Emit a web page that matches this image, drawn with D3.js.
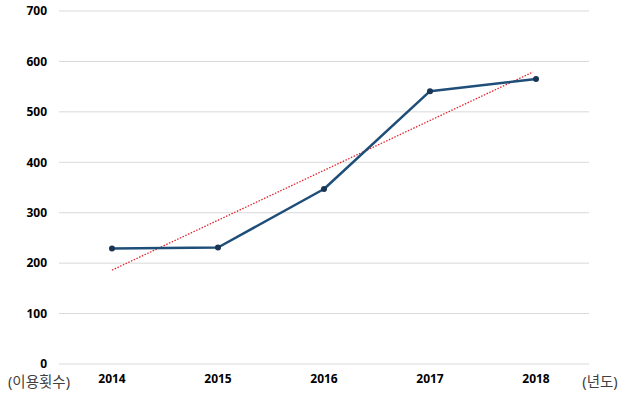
<!DOCTYPE html>
<html><head><meta charset="utf-8">
<script src="https://cdn.jsdelivr.net/npm/d3@7"></script>
<style>body{margin:0;background:#fff;} svg{display:block;}</style>
</head><body>
<svg id="c" width="627" height="396"></svg>
<script>
const categories = ["2014","2015","2016","2017","2018"];
const values = [229, 231, 347, 541, 565];
const yTicks = [0,100,200,300,400,500,600,700];
const yUnitLabel = "(이용횟수)";
const xUnitLabel = "(년도)";

const svg = d3.select("#c");
const m = {left:59, right:38, top:11, bottom:32};
const W = 627, H = 396;
const x = d3.scaleBand().domain(categories).range([m.left, W-m.right]);
const y = d3.scaleLinear().domain([0,700]).range([H-m.bottom, m.top]);
const cx = d => x(d) + x.bandwidth()/2;
const font = "'Noto Sans', 'Noto Sans CJK KR', sans-serif";

// gridlines
svg.append("g").selectAll("line").data(yTicks).join("line")
  .attr("x1", m.left).attr("x2", W-m.right)
  .attr("y1", d=>y(d)).attr("y2", d=>y(d))
  .attr("stroke", "#d9d9d9").attr("stroke-width", 1);

// y axis
const ya = svg.append("g").attr("transform", `translate(${m.left},0)`)
  .call(d3.axisLeft(y).tickValues(yTicks).tickSize(0).tickPadding(12));
ya.select(".domain").remove();
ya.selectAll("text").attr("font-family", font).attr("font-size", 12).attr("font-weight","bold").attr("fill","#000");

// x axis
const xa = svg.append("g").attr("transform", `translate(0,${H-m.bottom})`)
  .call(d3.axisBottom(x).tickSize(0).tickPadding(10));
xa.select(".domain").remove();
xa.selectAll("text").attr("font-family", font).attr("font-size", 12).attr("font-weight","bold").attr("fill","#000");

// unit labels
svg.append("text").attr("x", 39).attr("y", y(0)+23).attr("text-anchor","middle")
  .attr("font-family", font).attr("font-size", 14.5).attr("fill","#404040").text(yUnitLabel);
svg.append("text").attr("x", 600).attr("y", y(0)+23).attr("text-anchor","middle")
  .attr("font-family", font).attr("font-size", 14.5).attr("fill","#404040").text(xUnitLabel);

// linear trend (least squares on data)
const n = values.length;
const xs = d3.range(n);
const mx = d3.mean(xs), my = d3.mean(values);
const slope = d3.sum(xs, i => (i-mx)*(values[i]-my)) / d3.sum(xs, i => (i-mx)**2);
const icpt = my - slope*mx;
svg.append("line")
  .attr("x1", cx(categories[0])).attr("y1", y(icpt))
  .attr("x2", cx(categories[n-1])-3).attr("y2", y(icpt + slope*(n-1)))
  .attr("stroke", "#e0242b").attr("stroke-width", 1.3).attr("stroke-dasharray", "1.5,1.5");

// line
const line = d3.line().x((d,i)=>cx(categories[i])).y(d=>y(d));
svg.append("path").datum(values).attr("d", line)
  .attr("fill","none").attr("stroke","#1f4e79").attr("stroke-width",2.5).attr("stroke-linejoin","round");
svg.append("g").selectAll("circle").data(values).join("circle")
  .attr("cx",(d,i)=>cx(categories[i])).attr("cy",d=>y(d)).attr("r",3)
  .attr("fill","#1a3553");
</script>
</body></html>
